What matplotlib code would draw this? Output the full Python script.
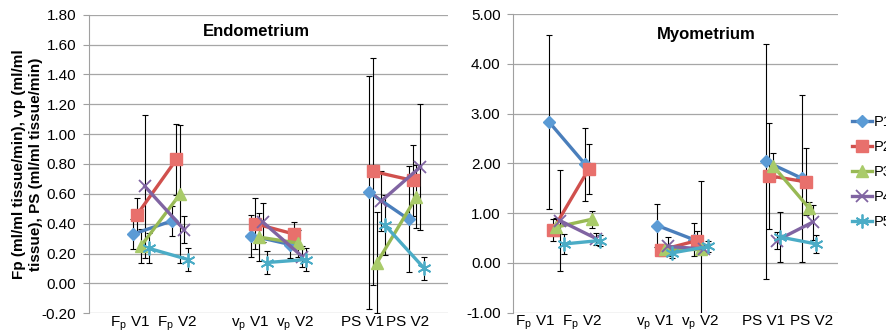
import matplotlib
matplotlib.use('Agg')
import matplotlib.pyplot as plt
import numpy as np

plt.rcParams['font.family'] = ['Liberation Sans', 'DejaVu Sans']
plt.rcParams['mathtext.default'] = 'regular'

series = ['P1', 'P2', 'P3', 'P4', 'P5']
groups = [1, 2, 4, 5, 7, 8]   # Fp V1, Fp V2, vp V1, vp V2, PS V1, PS V2
offsets = [0.0, 0.1, 0.2, 0.3, 0.4]
tick_labels = ['F$_p$ V1', 'F$_p$ V2', 'v$_p$ V1', 'v$_p$ V2', 'PS V1', 'PS V2']

# Endometrium
endo_vals = [
    [0.33, 0.42, 0.32, 0.26, 0.61, 0.43],
    [0.46, 0.83, 0.40, 0.33, 0.75, 0.69],
    [0.25, 0.60, 0.31, 0.27, 0.14, 0.58],
    [0.65, 0.36, 0.41, 0.18, 0.55, 0.78],
    [0.235, 0.16, 0.14, 0.16, 0.39, 0.10],
]
endo_err = [
    [0.10, 0.10, 0.14, 0.09, 0.78, 0.355],
    [0.11, 0.24, 0.17, 0.08, 0.76, 0.24],
    [0.115, 0.46, 0.16, 0.09, 0.34, 0.21],
    [0.48, 0.09, 0.13, 0.07, 0.20, 0.42],
    [0.10, 0.08, 0.08, 0.08, 0.20, 0.08],
]
endo_label_pos = [0.92, 2.11, 3.97, 5.13, 6.83, 7.98]

# Myometrium
myo_vals = [
    [2.83, 1.98, 0.75, 0.47, 2.04, 1.70],
    [0.66, 1.89, 0.26, 0.45, 1.75, 1.63],
    [0.72, 0.88, 0.27, 0.27, 1.95, 1.10],
    [0.85, 0.49, 0.33, 0.28, 0.45, 0.82],
    [0.38, 0.45, 0.20, 0.33, 0.52, 0.38],
]
myo_err = [
    [1.75, 0.73, 0.44, 0.34, 2.36, 1.68],
    [0.22, 0.50, 0.12, 0.20, 1.07, 0.67],
    [0.18, 0.17, 0.10, 1.38, 0.25, 0.12],
    [1.02, 0.12, 0.20, 0.10, 0.17, 0.35],
    [0.20, 0.12, 0.10, 0.12, 0.51, 0.19],
]
myo_label_pos = [0.61, 1.90, 3.94, 5.18, 6.94, 8.26]

line_colors = ['#4A7EBB', '#D0504D', '#98B954', '#8064A2', '#4BACC6']
face_colors = ['#5B9BD5', '#E8706C', '#A9CB6A', '#9478B8', '#62C3DC']
markers = ['D', 's', '^', 'x', (6, 2, 0)]
msizes = [6, 8, 8, 9, 10]

fig = plt.figure(figsize=(8.87, 3.35), dpi=100)
ax1 = fig.add_axes([0.1003, 0.0648, 0.4047, 0.8915])
ax2 = fig.add_axes([0.5784, 0.0666, 0.3664, 0.8914])


def draw_panel(ax, vals, errs, label_pos, ylim, yticks, xlim, title, tpos):
    handles = []
    for i in range(len(series)):
        x = np.array(groups) + offsets[i]
        y = np.array(vals[i])
        ax.errorbar(x, y, yerr=errs[i], fmt='none', ecolor='black',
                    elinewidth=0.8, capsize=2.2, capthick=0.8, zorder=2)
        for k in range(0, 6, 2):
            h, = ax.plot(x[k:k + 2], y[k:k + 2], color=line_colors[i], lw=2.4,
                         marker=markers[i], markersize=msizes[i],
                         markerfacecolor=face_colors[i],
                         markeredgecolor=face_colors[i] if i < 3 else line_colors[i],
                         markeredgewidth=1.0 if i < 3 else 1.3, zorder=3)
        handles.append(h)
    ax.set_ylim(*ylim)
    ax.set_yticks(yticks)
    ax.set_yticklabels(['%.2f' % t for t in yticks], fontsize=11)
    ax.set_xlim(*xlim)
    ax.set_xticks(label_pos)
    ax.set_xticklabels(tick_labels, fontsize=11)
    ax.tick_params(axis='x', length=0, pad=1)
    ax.tick_params(axis='y', length=4, color='#a0a0a0', pad=5)
    ax.grid(axis='y', color='#a6a6a6', lw=0.9)
    ax.set_axisbelow(True)
    for s in ['top', 'right', 'bottom']:
        ax.spines[s].set_visible(False)
    ax.spines['left'].set_color('#a0a0a0')
    ax.text(tpos[0], tpos[1], title, transform=ax.transAxes, ha='center',
            va='center', fontsize=12, fontweight='bold')
    return handles


draw_panel(ax1, endo_vals, endo_err, endo_label_pos, (-0.2, 1.8),
           np.arange(-0.2, 1.81, 0.2), (-0.12, 9.0), 'Endometrium', (0.465, 0.945))
handles = draw_panel(ax2, myo_vals, myo_err, myo_label_pos, (-1.0, 5.0),
                     np.arange(-1.0, 5.01, 1.0), (0.0, 9.0), 'Myometrium', (0.594, 0.933))

fig.text(0.031, 0.509, 'Fp (ml/ml tissue/min), vp (ml/ml\ntissue), PS (ml/ml tissue/min)',
         rotation=90, ha='center', va='center', fontsize=11, fontweight='bold',
         multialignment='center')

fig.legend(handles, series, loc='center left', bbox_to_anchor=(0.954, 0.487),
           frameon=False, fontsize=10.5, handlelength=1.4, handletextpad=0.1,
           labelspacing=0.75, borderaxespad=0.0, borderpad=0.4)

fig.savefig('out.png', dpi=100)
